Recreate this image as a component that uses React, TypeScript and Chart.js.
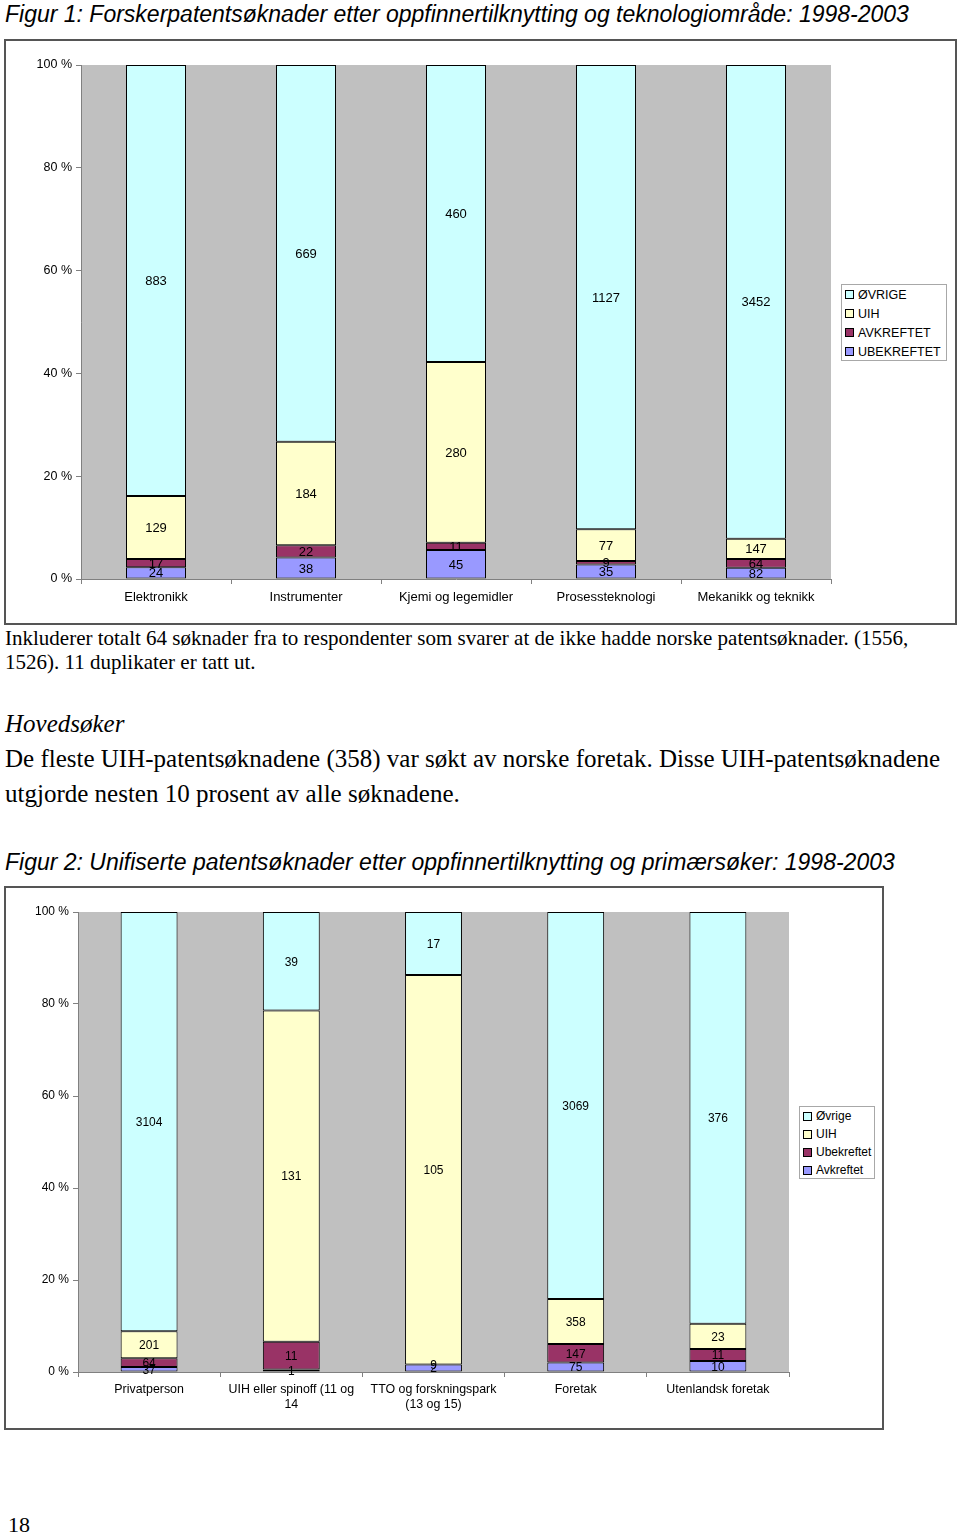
import React, { useEffect, useRef } from 'react';
import { Chart, registerables } from 'chart.js';
Chart.register(...registerables);

// ---------- Data ----------
const categories1 = ['Elektronikk', 'Instrumenter', 'Kjemi og legemidler', 'Prosessteknologi', 'Mekanikk og teknikk'];
const ubekreftet1 = [24, 38, 45, 35, 82];
const avkreftet1 = [17, 22, 11, 9, 64];
const uih1 = [129, 184, 280, 77, 147];
const ovrige1 = [883, 669, 460, 1127, 3452];

const categories2 = [['Privatperson'], ['UIH eller spinoff (11 og', '14'], ['TTO og forskningspark', '(13 og 15)'], ['Foretak'], ['Utenlandsk foretak']];
const avkreftet2 = [37, 1, 2, 75, 10];
const ubekreftet2 = [64, 11, 0, 147, 11];
const ubekreftetLabels2 = ['64', '11', '9', '147', '11'];
const uih2 = [201, 131, 105, 358, 23];
const ovrige2 = [3104, 39, 17, 3069, 376];

const yTickStep = 20;

// ---------- Styles ----------
const C_OVRIGE = '#CCFFFF';
const C_UIH = '#FFFFCC';
const C_MAROON = '#993366';
const C_LAV = '#9999FF';
const SANS = '"Liberation Sans", Arial, sans-serif';
const SERIF = '"Liberation Serif", "Times New Roman", serif';

type Series = { label: string; values: number[]; labels?: string[]; color: string };
type Geo = {
  w: number; h: number; padTop: number; padRight: number; yWidth: number; xHeight: number;
  xFont: number; yFont: number; labelFont: number; xPad: number;
};

const bgPlugin = {
  id: 'plotBg',
  beforeDraw(chart: any) {
    const { ctx, chartArea } = chart;
    if (!chartArea) return;
    ctx.save();
    ctx.fillStyle = '#C0C0C0';
    ctx.fillRect(chartArea.left, chartArea.top, chartArea.right - chartArea.left, chartArea.bottom - chartArea.top);
    ctx.restore();
  },
};

const labelPlugin = {
  id: 'segLabels',
  afterDatasetsDraw(chart: any, _args: any, opts: any) {
    const ctx = chart.ctx;
    ctx.save();
    ctx.font = (opts.size || 12) + 'px ' + SANS;
    ctx.fillStyle = '#000';
    ctx.textAlign = 'center';
    ctx.textBaseline = 'middle';
    chart.data.datasets.forEach((ds: any, di: number) => {
      const meta = chart.getDatasetMeta(di);
      meta.data.forEach((el: any, i: number) => {
        const p = el.getProps(['x', 'y', 'base'], true);
        const t = ds.rawLabels[i];
        if (t === '' || t == null) return;
        ctx.fillText(t, p.x, (p.y + p.base) / 2 + 1);
      });
    });
    ctx.restore();
  },
};

function BarChart({ categories, series, geo }: { categories: any[]; series: Series[]; geo: Geo }) {
  const ref = useRef<HTMLCanvasElement>(null);
  useEffect(() => {
    if (!ref.current) return;
    const totals = categories.map((_, i) => series.reduce((s, d) => s + d.values[i], 0));
    const chart = new Chart(ref.current, {
      type: 'bar',
      data: {
        labels: categories,
        datasets: series.map((s) => ({
          label: s.label,
          data: s.values.map((v, i) => (v / totals[i]) * 100),
          rawLabels: s.labels ?? s.values.map(String),
          backgroundColor: s.color,
          borderColor: '#000',
          borderWidth: 1,
          borderSkipped: false,
          barPercentage: 0.4,
          categoryPercentage: 1,
        })) as any,
      },
      options: {
        animation: false,
        responsive: false,
        layout: { padding: { top: geo.padTop, right: geo.padRight, left: 0, bottom: 0 } },
        plugins: { legend: { display: false }, tooltip: { enabled: false }, segLabels: { size: geo.labelFont } },
        scales: {
          x: {
            stacked: true,
            offset: true,
            grid: { offset: true, drawOnChartArea: false, drawTicks: true, tickLength: 5, color: '#808080' },
            border: { display: true, color: '#808080' },
            ticks: { color: '#000', font: { family: SANS, size: geo.xFont }, padding: geo.xPad, maxRotation: 0, autoSkip: false },
            afterFit: (s: any) => { s.height = geo.xHeight; },
          },
          y: {
            stacked: true,
            min: 0,
            max: 100,
            ticks: { stepSize: yTickStep, callback: (v: any) => v + ' %', color: '#000', font: { family: SANS, size: geo.yFont }, padding: 4 },
            grid: { drawOnChartArea: false, drawTicks: true, tickLength: 5, color: '#808080' },
            border: { display: true, color: '#808080' },
            afterFit: (s: any) => { s.width = geo.yWidth; },
          },
        },
      } as any,
      plugins: [bgPlugin, labelPlugin],
    });
    return () => chart.destroy();
  }, []);
  return <canvas ref={ref} width={geo.w} height={geo.h} style={{ width: geo.w, height: geo.h, display: 'block' }} />;
}

function Legend({ items, left, top, width, height, rowH, fontSize }: any) {
  return (
    <div style={{ position: 'absolute', left, top, width, height, boxSizing: 'border-box', border: '1px solid #a8a8a8', background: '#fff', paddingTop: 0, paddingLeft: 3 }}>
      {items.map((it: any) => (
        <div key={it.label} style={{ display: 'flex', alignItems: 'center', height: rowH, fontFamily: SANS, fontSize, color: '#000', whiteSpace: 'nowrap' }}>
          <span style={{ display: 'inline-block', width: 7, height: 7, border: '1px solid #000', background: it.color, marginRight: 4 }} />
          {it.label}
        </div>
      ))}
    </div>
  );
}

function Line({ text, top, size, lh, italic, family, left = 5 }: any) {
  return (
    <div style={{ position: 'absolute', left, top: top - lh / 2, height: lh, lineHeight: lh + 'px', fontSize: size, fontFamily: family, fontStyle: italic ? 'italic' : 'normal', color: '#000', whiteSpace: 'nowrap' }}>
      {text}
    </div>
  );
}

export default function App() {
  const series1: Series[] = [
    { label: 'UBEKREFTET', values: ubekreftet1, color: C_LAV },
    { label: 'AVKREFTET', values: avkreftet1, color: C_MAROON },
    { label: 'UIH', values: uih1, color: C_UIH },
    { label: 'ØVRIGE', values: ovrige1, color: C_OVRIGE },
  ];
  const series2: Series[] = [
    { label: 'Avkreftet', values: avkreftet2, color: C_LAV },
    { label: 'Ubekreftet', values: ubekreftet2, labels: ubekreftetLabels2, color: C_MAROON },
    { label: 'UIH', values: uih2, color: C_UIH },
    { label: 'Øvrige', values: ovrige2, color: C_OVRIGE },
  ];
  const legend1 = [...series1].reverse().map((s) => ({ label: s.label, color: s.color }));
  const legend2 = [
    { label: 'Øvrige', color: C_OVRIGE },
    { label: 'UIH', color: C_UIH },
    { label: 'Ubekreftet', color: C_MAROON },
    { label: 'Avkreftet', color: C_LAV },
  ];

  return (
    <div style={{ position: 'absolute', left: 0, top: 0, width: 960, height: 1537, background: '#fff', overflow: 'hidden' }}>
      <Line text="Figur 1: Forskerpatentsøknader etter oppfinnertilknytting og teknologiområde: 1998-2003" top={14} size={23} lh={26} italic family={SANS} />

      <div style={{ position: 'absolute', left: 4, top: 39 }}>
        <BarChart categories={categories1} series={series1} geo={{ w: 953, h: 586, padTop: 26, padRight: 126, yWidth: 77, xHeight: 46, xFont: 13, yFont: 12.5, labelFont: 13, xPad: 6 }} />
      </div>
      <div style={{ position: 'absolute', left: 4, top: 39, width: 953, height: 586, boxSizing: 'border-box', border: '2px solid #555', pointerEvents: 'none' }} />
      <Legend items={legend1} left={841} top={284} width={106} height={77} rowH={19} fontSize={12.5} />

      <Line text="Inkluderer totalt 64 søknader fra to respondenter som svarer at de ikke hadde norske patentsøknader. (1556," top={638} size={21} lh={24} family={SERIF} />
      <Line text="1526). 11 duplikater er tatt ut." top={662} size={21} lh={24} family={SERIF} />
      <Line text="Hovedsøker" top={724} size={25} lh={30} italic family={SERIF} />
      <Line text="De fleste UIH-patentsøknadene (358) var søkt av norske foretak. Disse UIH-patentsøknadene" top={759} size={25} lh={30} family={SERIF} />
      <Line text="utgjorde nesten 10 prosent av alle søknadene." top={794} size={25} lh={30} family={SERIF} />

      <Line text="Figur 2: Unifiserte patentsøknader etter oppfinnertilknytting og primærsøker: 1998-2003" top={862} size={23} lh={26} italic family={SANS} />

      <div style={{ position: 'absolute', left: 4, top: 886 }}>
        <BarChart categories={categories2} series={series2} geo={{ w: 880, h: 544, padTop: 26, padRight: 95, yWidth: 74, xHeight: 58, xFont: 12.4, yFont: 12, labelFont: 12, xPad: 5 }} />
      </div>
      <div style={{ position: 'absolute', left: 4, top: 886, width: 880, height: 544, boxSizing: 'border-box', border: '2px solid #555', pointerEvents: 'none' }} />
      <Legend items={legend2} left={799} top={1106} width={76} height={73} rowH={18} fontSize={12} />

      <Line text="18" top={1525} size={22} lh={26} family={SERIF} left={8} />
    </div>
  );
}
